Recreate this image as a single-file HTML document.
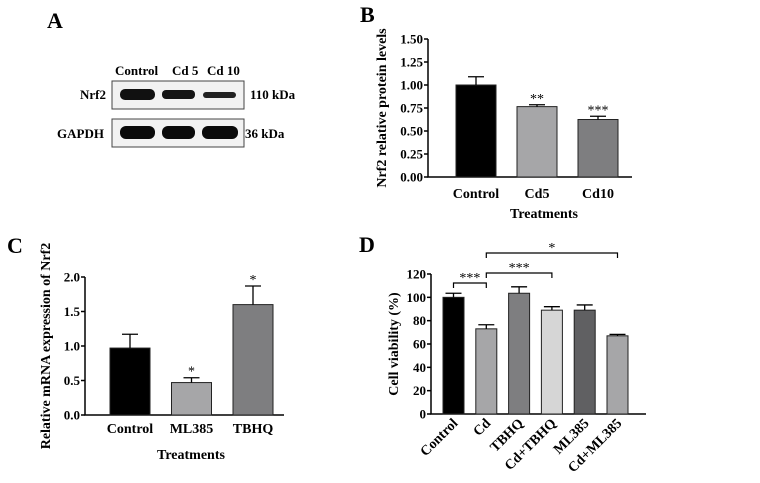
<!DOCTYPE html>
<html><head><meta charset="utf-8"><style>
body{margin:0;background:#fff;width:760px;height:478px;overflow:hidden}
svg{font-family:"Liberation Serif",serif;font-weight:bold}
</style></head><body>
<svg id="s" width="760" height="478" viewBox="0 0 760 478">
<g>
<text x="47" y="28" font-size="22">A</text>
<text x="115" y="75" font-size="13">Control</text>
<text x="172" y="75" font-size="13">Cd 5</text>
<text x="207" y="75" font-size="13">Cd 10</text>
<text x="80" y="99" font-size="13">Nrf2</text>
<text x="57" y="138" font-size="13">GAPDH</text>
<text x="250" y="99" font-size="13">110 kDa</text>
<text x="245" y="138" font-size="13">36 kDa</text>
<rect x="112" y="81" width="132" height="28" fill="#f2f2f2" stroke="#444"/>
<rect x="112" y="119" width="132" height="28" fill="#f2f2f2" stroke="#444"/>
<rect x="120" y="89" width="35" height="11" rx="5" fill="#111"/>
<rect x="162" y="90" width="33" height="9" rx="4" fill="#151515"/>
<rect x="203" y="92" width="33" height="6" rx="3" fill="#222"/>
<rect x="120" y="126" width="35" height="13" rx="6" fill="#0a0a0a"/>
<rect x="162" y="126" width="33" height="13" rx="6" fill="#0a0a0a"/>
<rect x="202" y="126" width="36" height="13" rx="6" fill="#0a0a0a"/>
</g>
<g id="B"></g><g id="C"></g><g id="D"></g>
</svg>
<script>
// Panel B data
const bCats=["Control","Cd5","Cd10"];
const bVals=[1.0,0.765,0.625];
const bErr=[0.09,0.02,0.035];
const bStars=["","**","***"];
const bTicks=[0,0.25,0.5,0.75,1.0,1.25,1.5];
const bColors=["#000","#a6a6a8","#7e7e80"];
// Panel C data
const cCats=["Control","ML385","TBHQ"];
const cVals=[0.97,0.47,1.6];
const cErr=[0.2,0.07,0.27];
const cStars=["","*","*"];
const cTicks=[0,0.5,1.0,1.5,2.0];
const cColors=["#000","#a6a6a8","#7e7e80"];
// Panel D data
const dCats=["Control","Cd","TBHQ","Cd+TBHQ","ML385","Cd+ML385"];
const dVals=[100,73,103.5,89,89,67];
const dErr=[3.5,3.5,5.5,3,4.5,1.2];
const dTicks=[0,20,40,60,80,100,120];
const dColors=["#000","#a6a6a8","#7e7e80","#d6d6d6","#606062","#a6a6a8"];
const dBrackets=[[0,1,"***"],[1,3,"***"],[1,5,"*"]];

const NS="http://www.w3.org/2000/svg";
function mk(p,t,a,txt){const e=document.createElementNS(NS,t);for(const k in a)e.setAttribute(k,a[k]);if(txt!==undefined)e.textContent=txt;p.appendChild(e);return e;}

function panel(g,o){
  const y=v=>o.y0-(v-o.tmin)/(o.tmax-o.tmin)*(o.y0-o.y1);
  const ax=mk(g,"path",{d:`M${o.ax},${o.y1} V${o.y0} H${o.axEnd}`,stroke:"#000","stroke-width":1.5,fill:"none"});
  
  
  o.ticks.forEach(t=>{
    const l=mk(g,"line",{x1:o.ax-4,x2:o.ax,y1:y(t),y2:y(t),stroke:"#000","stroke-width":1.5});
    
    
    const tx=mk(g,"text",{x:o.ax-5,y:y(t)+4.5,"font-size":13,"text-anchor":"end"},o.fmt(t));
    
    
  });
  o.cats.forEach((c,i)=>{
    const x=o.x0+i*o.step, w=o.bw, cx=x+w/2;
    const r=mk(g,"rect",{x:x,y:y(o.vals[i]),width:w,height:o.y0-y(o.vals[i]),fill:o.colors[i],stroke:"#222","stroke-width":1});
    
    
    const ey=y(o.vals[i]+o.err[i]);
    const e=mk(g,"path",{d:`M${cx},${y(o.vals[i])} V${ey} M${cx-8},${ey} H${cx+8}`,stroke:"#000","stroke-width":1.3,fill:"none"});
    
    
    if(o.stars&&o.stars[i]){
      const s=mk(g,"text",{x:cx,y:ey-2,"font-size":14,"text-anchor":"middle","font-weight":"normal"},o.stars[i]);
      
      
    }
    let lb;
    if(o.rot){
      lb=mk(g,"text",{x:cx+5,y:o.y0+10,"font-size":14,"text-anchor":"end",transform:`rotate(-45 ${cx+5} ${o.y0+10})`},c);
    } else {
      lb=mk(g,"text",{x:cx,y:o.labY,"font-size":14,"text-anchor":"middle"},c);
    }
    
    
  });
  return y;
}

const gB=document.getElementById("B");


mk(gB,"text",{x:360,y:22,"font-size":22},"B");
panel(gB,{ax:428,axEnd:632,y0:177,y1:39,tmin:0,tmax:1.5,ticks:bTicks,fmt:t=>t.toFixed(2),cats:bCats,vals:bVals,err:bErr,stars:bStars,colors:bColors,x0:456,step:61,bw:40,labY:198});
mk(gB,"text",{x:544,y:218,"font-size":14,"text-anchor":"middle"},"Treatments");
mk(gB,"text",{x:386,y:108,"font-size":14,"text-anchor":"middle",transform:"rotate(-90 386 108)"},"Nrf2 relative protein levels");

const gC=document.getElementById("C");


mk(gC,"text",{x:7,y:253,"font-size":22},"C");
panel(gC,{ax:85,axEnd:284,y0:415,y1:277,tmin:0,tmax:2,ticks:cTicks,fmt:t=>t.toFixed(1),cats:cCats,vals:cVals,err:cErr,stars:cStars,colors:cColors,x0:110,step:61.5,bw:40,labY:433});
mk(gC,"text",{x:191,y:459,"font-size":14,"text-anchor":"middle"},"Treatments");
mk(gC,"text",{x:50,y:346,"font-size":14,"text-anchor":"middle",transform:"rotate(-90 50 346)"},"Relative mRNA expression of Nrf2");

const gD=document.getElementById("D");


mk(gD,"text",{x:359,y:252,"font-size":22},"D");
const yD=panel(gD,{ax:431,axEnd:646,y0:414,y1:274,tmin:0,tmax:120,ticks:dTicks,fmt:t=>String(t),cats:dCats,vals:dVals,err:dErr,colors:dColors,x0:443,step:32.8,bw:21,rot:true});
mk(gD,"text",{x:398,y:344,"font-size":14,"text-anchor":"middle",transform:"rotate(-90 398 344)"},"Cell viability (%)");
const bY=[283,273,253];
dBrackets.forEach((b,k)=>{
  const x1=443+b[0]*32.8+10.5, x2=443+b[1]*32.8+10.5, yy=bY[k];
  const p=mk(gD,"path",{d:`M${x1},${yy+5} V${yy} H${x2} V${yy+5}`,stroke:"#000","stroke-width":1.2,fill:"none"});
  
  
  const t=mk(gD,"text",{x:(x1+x2)/2,y:yy-1,"font-size":14,"text-anchor":"middle","font-weight":"normal"},b[2]);
  
  
});
</script>
</body></html>
